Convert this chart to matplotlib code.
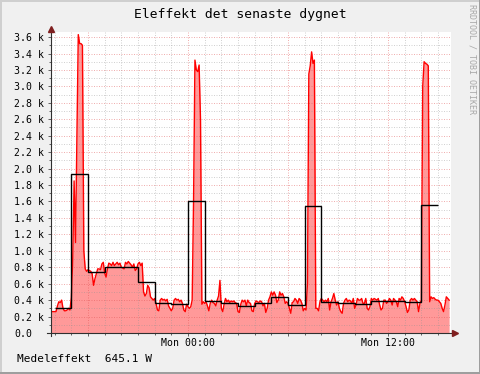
import numpy as np
import pandas as pd
import matplotlib
matplotlib.use('Agg')
import matplotlib.pyplot as plt
from matplotlib.ticker import MultipleLocator, FuncFormatter
from matplotlib.patches import Rectangle

# power in W, 5 minute samples starting Sun 15:45 (one row per hour)
power = [
    270, 260, 260,
    260, 260, 330, 380, 370, 400, 300, 270, 270, 280, 300, 280,
    430, 900, 1850, 1100, 2400, 3630, 3520, 3520, 3500, 1000, 780, 750,
    770, 760, 750, 720, 580, 660, 720, 780, 780, 770, 840, 860,
    730, 680, 780, 850, 840, 820, 860, 820, 840, 860, 830, 850,
    800, 790, 780, 860, 840, 870, 850, 830, 800, 840, 760, 780,
    840, 860, 820, 850, 500, 450, 480, 580, 550, 440, 420, 400,
    420, 360, 280, 270, 400, 420, 400, 410, 390, 410, 330, 300,
    270, 300, 400, 420, 400, 410, 380, 400, 360, 280, 260, 350,
    320, 300, 320, 400, 1600, 3320, 3200, 3180, 3260, 2600, 350, 380,
    360, 380, 330, 270, 360, 400, 370, 360, 330, 400, 450, 640,
    300, 260, 350, 420, 380, 400, 370, 390, 380, 390, 370, 360,
    260, 250, 350, 400, 380, 400, 330, 400, 370, 360, 270, 260,
    360, 390, 380, 370, 390, 380, 330, 360, 250, 300, 400, 440,
    500, 460, 500, 460, 370, 400, 500, 460, 480, 440, 360, 380,
    360, 300, 240, 370, 380, 420, 400, 360, 420, 400, 360, 270,
    300, 280, 600, 3150, 3250, 3420, 3280, 3320, 300, 300, 270, 380,
    420, 400, 380, 400, 380, 420, 280, 380, 420, 480, 400, 340,
    380, 300, 260, 240, 360, 400, 420, 380, 400, 390, 360, 420,
    300, 340, 420, 400, 400, 420, 360, 360, 420, 300, 280, 320,
    420, 400, 420, 410, 400, 420, 340, 280, 300, 400, 400, 360,
    380, 420, 400, 340, 420, 400, 380, 320, 420, 400, 440, 420,
    380, 320, 250, 280, 400, 420, 400, 420, 400, 380, 260, 360,
    400, 3000, 3300, 3280, 3270, 3250, 380, 440, 420, 430, 410, 400,
    400, 380, 360, 300, 260, 340, 440, 420, 400,
]

# hourly mean in W, from Sun 16:00
hourly_mean = [310, 1930, 740, 800, 800, 620, 370, 350, 1610, 385, 365, 325,
               370, 435, 340, 1540, 380, 370, 350, 385, 385, 380, 1560]

title = 'Eleffekt det senaste dygnet'
legend_text = 'Medeleffekt  645.1 W'
watermark = 'RRDTOOL / TOBI OETIKER'

midnight = pd.Timestamp('2013-03-11 00:00')
times = pd.date_range('2013-03-10 15:45', periods=len(power), freq='5min')
hour_edges = pd.date_range('2013-03-10 16:00', periods=len(hourly_mean) + 1, freq='h')
t = np.asarray((times - midnight) / pd.Timedelta(hours=1))
edges = np.asarray((hour_edges - midnight) / pd.Timedelta(hours=1))

W, H = 481, 374
mono = 'DejaVu Sans Mono'
fig = plt.figure(figsize=(W / 100, H / 100), dpi=100, facecolor='#F0F0F0')
ax = fig.add_axes([51 / W, 41 / H, 400 / W, 300.7 / H])
ax.set_facecolor('white')

ax.fill_between(t, power, color='#FF9999', lw=0, zorder=1)
ax.plot(t, power, color='#FF0000', lw=1.0, zorder=3)
ax.stairs(hourly_mean, edges, baseline=None, color='black', lw=1.0, zorder=4)

ax.set_xlim(-8.22, 15.78)
ax.set_ylim(0, 3658)

ax.xaxis.set_major_locator(MultipleLocator(6))
ax.xaxis.set_minor_locator(MultipleLocator(1))
ax.yaxis.set_major_locator(MultipleLocator(200))
ax.yaxis.set_minor_locator(MultipleLocator(100))


def xfmt(v, pos):
    if v % 12 != 0:
        return ''
    return (midnight + pd.Timedelta(hours=v)).strftime('%a %H:%M')


def yfmt(v, pos):
    if v == 0:
        return '0.0'
    return '%.1f k' % (v / 1000)


ax.xaxis.set_major_formatter(FuncFormatter(xfmt))
ax.yaxis.set_major_formatter(FuncFormatter(yfmt))

ax.set_axisbelow(False)
ax.grid(which='minor', color='#8F8F8F', alpha=0.4, lw=0.72, ls=(0, (1, 1.5)))
ax.grid(which='major', color='#DE5050', alpha=0.45, lw=0.72, ls=(0, (1, 1.5)))

for s in ax.spines.values():
    s.set_visible(False)

ax.tick_params(which='both', direction='out', color='#606060', width=0.7, labelsize=7.1)
ax.tick_params(which='major', length=2.2)
ax.tick_params(which='minor', length=1.4)
ax.tick_params(axis='x', pad=1.2)
ax.tick_params(axis='y', pad=24.2)
for lbl in ax.get_xticklabels() + ax.get_yticklabels():
    lbl.set_family(mono)
plt.setp(ax.get_yticklabels(), ha='left')

# axis lines with arrows
ax.plot([0, 0], [-0.01, 1.005], transform=ax.transAxes, color='#303030', lw=0.8,
        clip_on=False, zorder=6)
ax.plot([-0.01, 1.005], [0, 0], transform=ax.transAxes, color='#303030', lw=0.8,
        clip_on=False, zorder=6)
ax.plot([0], [1.0126], transform=ax.transAxes, marker='^', ms=4, color='#7F1F1F',
        clip_on=False, zorder=7)
ax.plot([1.01], [0], transform=ax.transAxes, marker='>', ms=4, color='#7F1F1F',
        clip_on=False, zorder=7)

fig.text(0.5, 1 - 18.3 / H, title, ha='center', va='baseline', family=mono,
         fontsize=9.4, color='black')
fig.text(16.7 / W, 1 - 361.7 / H, legend_text, ha='left', va='baseline', family=mono,
         fontsize=8.0, color='black')
fig.text(471.7 / W, 1 - 4 / H, watermark, ha='center', va='top', rotation=270,
         family=mono, fontsize=6, color='#A8A8A8')

# shaded border
fig.add_artist(Rectangle((0, 1 - 2 / H), 1, 2 / H, transform=fig.transFigure,
                         color='#CFCFCF', lw=0))
fig.add_artist(Rectangle((0, 0), 2 / W, 1, transform=fig.transFigure,
                         color='#CFCFCF', lw=0))
fig.add_artist(Rectangle((0, 0), 1, 2 / H, transform=fig.transFigure,
                         color='#9E9E9E', lw=0))
fig.add_artist(Rectangle((1 - 2 / W, 0), 2 / W, 1, transform=fig.transFigure,
                         color='#9E9E9E', lw=0))

fig.savefig('out.png', dpi=100, facecolor=fig.get_facecolor())
